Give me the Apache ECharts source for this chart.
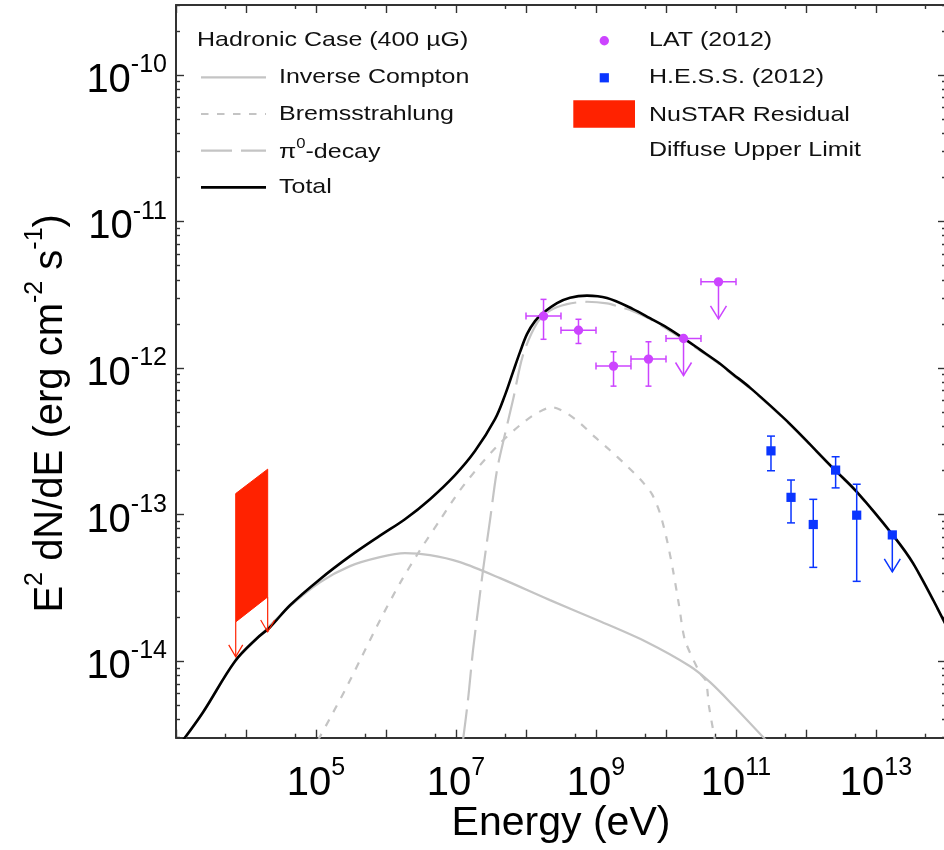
<!DOCTYPE html>
<html><head><meta charset="utf-8">
<script src="https://cdn.jsdelivr.net/npm/echarts@6/dist/echarts.min.js"></script>
<style>html,body{margin:0;padding:0;background:#fff}#c{width:944px;height:850px}</style>
</head><body><div id="c"></div>
<script>
// ---------------- DATA ----------------
// Model curves: log10(E / eV) and log10(E^2 dN/dE / erg cm^-2 s^-1)
const totalLogE = [3.100, 3.386, 3.843, 4.157, 4.343, 4.629, 5.057, 5.486, 5.914, 6.271, 6.629, 6.986, 7.271, 7.557, 7.700, 7.814, 7.914, 8.014, 8.129, 8.243, 8.443, 8.629, 8.871, 9.157, 9.529, 9.771, 10.014, 10.300, 10.486, 10.729, 10.957, 11.200, 11.729, 12.386, 12.729, 13.243, 13.529, 14.000];
const totalLogF = [-14.540, -14.349, -14.001, -13.844, -13.769, -13.619, -13.441, -13.284, -13.144, -13.032, -12.895, -12.731, -12.567, -12.349, -12.185, -12.028, -11.892, -11.769, -11.680, -11.625, -11.557, -11.520, -11.506, -11.523, -11.598, -11.660, -11.724, -11.813, -11.875, -11.956, -12.042, -12.134, -12.363, -12.683, -12.847, -13.141, -13.332, -13.755];

const pionLogE = [7.100, 7.171, 7.243, 7.314, 7.386, 7.486, 7.586, 7.700, 7.814, 7.957, 8.157, 8.343, 8.586, 8.871, 9.157, 9.343, 9.529, 9.771, 10.014, 10.300, 10.486, 10.729, 10.957, 11.200, 11.729, 12.386, 12.729, 13.243, 13.529, 14.000];
const pionLogF = [-14.540, -14.267, -13.926, -13.653, -13.380, -13.038, -12.697, -12.451, -12.219, -11.912, -11.694, -11.608, -11.564, -11.548, -11.559, -11.584, -11.612, -11.666, -11.735, -11.823, -11.881, -11.962, -12.048, -12.140, -12.368, -12.687, -12.851, -13.145, -13.336, -13.759];

const bremsLogE = [5.029, 5.200, 5.414, 5.629, 5.914, 6.200, 6.486, 6.771, 7.057, 7.343, 7.629, 7.914, 8.129, 8.371, 8.557, 8.771, 8.986, 9.200, 9.414, 9.629, 9.800, 9.914, 10.014, 10.100, 10.186, 10.271, 10.486, 10.571, 10.614, 10.700];
const bremsLogF = [-14.540, -14.390, -14.199, -13.994, -13.721, -13.468, -13.243, -13.038, -12.834, -12.663, -12.513, -12.390, -12.315, -12.267, -12.301, -12.376, -12.472, -12.561, -12.656, -12.758, -12.861, -12.991, -13.175, -13.380, -13.619, -13.857, -14.083, -14.137, -14.308, -14.540];

const icLogE = [3.100, 3.386, 3.843, 4.157, 4.629, 5.057, 5.486, 5.914, 6.271, 6.629, 7.057, 7.629, 8.343, 9.057, 9.729, 10.343, 10.629, 10.957, 11.429];
const icLogF = [-14.545, -14.352, -14.004, -13.847, -13.625, -13.462, -13.352, -13.291, -13.264, -13.277, -13.325, -13.434, -13.584, -13.728, -13.871, -14.035, -14.144, -14.301, -14.540];

// Fermi-LAT (2012)
const latE     = [1.78e8, 5.62e8, 1.78e9, 5.62e9, 1.78e10, 5.62e10];
const latELow  = [1.00e8, 3.16e8, 1.00e9, 3.16e9, 1.00e10, 3.16e10];
const latEHigh = [3.16e8, 1.00e9, 3.16e9, 1.00e10, 3.16e10, 1.00e11];
const latF     = [2.26e-12, 1.81e-12, 1.03e-12, 1.15e-12, 1.59e-12, 3.87e-12];
const latFLow  = [1.57e-12, 1.47e-12, 7.52e-13, 7.52e-13, null, null];
const latFHigh = [2.94e-12, 2.15e-12, 1.29e-12, 1.51e-12, null, null];
const latUL    = [false, false, false, false, true, true];

// H.E.S.S. (2012)
const hessE     = [3.16e11, 6.11e11, 1.27e12, 2.65e12, 5.30e12, 1.71e13];
const hessF     = [2.72e-13, 1.31e-13, 8.55e-14, 2.01e-13, 9.90e-14, 7.26e-14];
const hessFLow  = [1.99e-13, 8.77e-14, 4.36e-14, 1.52e-13, 3.50e-14, null];
const hessFHigh = [3.43e-13, 1.72e-13, 1.27e-13, 2.48e-13, 1.61e-13, null];
const hessUL    = [false, false, false, false, false, true];

// NuSTAR residual band (left / right energy edges) and diffuse upper limit (= band bottom)
const nustarE     = [7.13e3, 2.04e4];
const nustarFHigh = [1.39e-13, 2.04e-13];
const nustarFLow  = [1.85e-14, 2.74e-14];

// Axes
const X_MIN = 1e3, X_MAX = 1e14, Y_MIN = 3e-15, Y_MAX = 3e-10;
const xTickLabels = [1e5, 1e7, 1e9, 1e11, 1e13];
const yTickLabels = [1e-14, 1e-13, 1e-12, 1e-11, 1e-10];
const xMajorTicks = [1e3, 1e4, 1e5, 1e6, 1e7, 1e8, 1e9, 1e10, 1e11, 1e12, 1e13, 1e14];
const xMinorTicks = [5e3, 5e4, 5e5, 5e6, 5e7, 5e8, 5e9, 5e10, 5e11, 5e12, 5e13];
const yMajorTicks = [1e-14, 1e-13, 1e-12, 1e-11, 1e-10];
const yMinorTicks = [];
for (let n = -15; n <= -10; n++) for (let k = 2; k <= 9; k++) yMinorTicks.push(k * Math.pow(10, n));

// ---------------- STYLE ----------------
const FONT = '"Liberation Sans", Arial, Helvetica, sans-serif';
const AX = '#333';
const LAT_COLOR = '#cc44ff', HESS_COLOR = '#0a35ff', NU_COLOR = '#ff2200', GRAY = '#c4c4c4';

function toPairs(le, lf) { return le.map((e, i) => [Math.pow(10, e), Math.pow(10, lf[i])]); }

const richNum = {
  b: {fontSize: 40, fontFamily: FONT, color: '#000', lineHeight: 48, verticalAlign: 'bottom'},
  s: {fontSize: 25, fontFamily: FONT, color: '#000', lineHeight: 25, verticalAlign: 'top'}
};
const expLabel = v => '{b|10}{s|' + Math.round(Math.log10(v)) + '}';

function axis(kind, pos, ticks, len, showLine, extra) {
  const a = {
    type: 'log', logBase: 10,
    min: kind === 'x' ? X_MIN : Y_MIN, max: kind === 'x' ? X_MAX : Y_MAX,
    position: pos, gridIndex: 0,
    axisLine: {show: showLine, onZero: false, lineStyle: {color: AX, width: 2}},
    axisTick: {show: true, inside: true, length: len, customValues: ticks, lineStyle: {color: AX, width: 1.4}},
    axisLabel: {show: false},
    splitLine: {show: false}, minorTick: {show: false}, minorSplitLine: {show: false}
  };
  return Object.assign(a, extra || {});
}

const st = (c, w) => ({stroke: c, lineWidth: w, fill: null});

function renderLat(params, api) {
  const i = params.dataIndex;
  const c = api.coord([latE[i], latF[i]]);
  const xl = api.coord([latELow[i], latF[i]])[0];
  const xh = api.coord([latEHigh[i], latF[i]])[0];
  const s = st(LAT_COLOR, 1.5);
  const ch = [
    {type: 'line', shape: {x1: xl, y1: c[1], x2: xh, y2: c[1]}, style: s},
    {type: 'line', shape: {x1: xl, y1: c[1] - 3.5, x2: xl, y2: c[1] + 3.5}, style: s},
    {type: 'line', shape: {x1: xh, y1: c[1] - 3.5, x2: xh, y2: c[1] + 3.5}, style: s}
  ];
  if (latUL[i]) {
    const tip = c[1] + 37;
    ch.push({type: 'line', shape: {x1: c[0], y1: c[1], x2: c[0], y2: tip}, style: s});
    ch.push({type: 'polyline', shape: {points: [[c[0] - 8, tip - 13], [c[0], tip], [c[0] + 8, tip - 13]]}, style: s});
  } else {
    const yl = api.coord([latE[i], latFLow[i]])[1];
    const yh = api.coord([latE[i], latFHigh[i]])[1];
    ch.push({type: 'line', shape: {x1: c[0], y1: yl, x2: c[0], y2: yh}, style: s});
    ch.push({type: 'line', shape: {x1: c[0] - 3, y1: yl, x2: c[0] + 3, y2: yl}, style: s});
    ch.push({type: 'line', shape: {x1: c[0] - 3, y1: yh, x2: c[0] + 3, y2: yh}, style: s});
  }
  ch.push({type: 'circle', shape: {cx: c[0], cy: c[1], r: 4.7}, style: {fill: LAT_COLOR}});
  return {type: 'group', children: ch};
}

function renderHess(params, api) {
  const i = params.dataIndex;
  const c = api.coord([hessE[i], hessF[i]]);
  const s = st(HESS_COLOR, 1.5);
  const ch = [];
  if (hessUL[i]) {
    const tip = c[1] + 37;
    ch.push({type: 'line', shape: {x1: c[0], y1: c[1], x2: c[0], y2: tip}, style: s});
    ch.push({type: 'polyline', shape: {points: [[c[0] - 8, tip - 13], [c[0], tip], [c[0] + 8, tip - 13]]}, style: s});
  } else {
    const yl = api.coord([hessE[i], hessFLow[i]])[1];
    const yh = api.coord([hessE[i], hessFHigh[i]])[1];
    ch.push({type: 'line', shape: {x1: c[0], y1: yl, x2: c[0], y2: yh}, style: s});
    ch.push({type: 'line', shape: {x1: c[0] - 4, y1: yl, x2: c[0] + 4, y2: yl}, style: s});
    ch.push({type: 'line', shape: {x1: c[0] - 4, y1: yh, x2: c[0] + 4, y2: yh}, style: s});
  }
  ch.push({type: 'rect', shape: {x: c[0] - 4.6, y: c[1] - 4.6, width: 9.2, height: 9.2}, style: {fill: HESS_COLOR}});
  return {type: 'group', children: ch};
}

function renderNu(params, api) {
  const p1 = api.coord([nustarE[0], nustarFLow[0]]);
  const p2 = api.coord([nustarE[0], nustarFHigh[0]]);
  const p3 = api.coord([nustarE[1], nustarFHigh[1]]);
  const p4 = api.coord([nustarE[1], nustarFLow[1]]);
  const s = st(NU_COLOR, 1.2);
  const ch = [{type: 'polygon', shape: {points: [p1, p2, p3, p4]}, style: {fill: NU_COLOR, stroke: NU_COLOR, lineWidth: 1}}];
  [p1, p4].forEach(p => {
    const tip = p[1] + 35;
    ch.push({type: 'line', shape: {x1: p[0], y1: p[1], x2: p[0], y2: tip}, style: s});
    ch.push({type: 'polyline', shape: {points: [[p[0] - 7, tip - 12], [p[0], tip], [p[0] + 7, tip - 12]]}, style: s});
  });
  return {type: 'group', children: ch};
}

// Legend drawn as graphic elements
const LEG_SCALE = 1.19;
function legText(x, y, text, rich) {
  const style = {text: text, fontSize: 21, fontFamily: FONT, fill: '#111', align: 'left', verticalAlign: 'middle'};
  if (rich) style.rich = rich;
  return {type: 'text', x: x, y: y, scaleX: LEG_SCALE, style: style, z: 100};
}
const legendElements = [
  legText(197, 40, 'Hadronic Case (400 µG)'),
  {type: 'line', shape: {x1: 201, y1: 77.3, x2: 266, y2: 77.3}, style: {stroke: GRAY, lineWidth: 2.2}, z: 100},
  legText(279, 77.5, 'Inverse Compton'),
  {type: 'line', shape: {x1: 201, y1: 114, x2: 266, y2: 114}, style: {stroke: GRAY, lineWidth: 2.2, lineDash: [7.5, 8.5]}, z: 100},
  legText(279, 114, 'Bremsstrahlung'),
  {type: 'line', shape: {x1: 201, y1: 150.7, x2: 266, y2: 150.7}, style: {stroke: GRAY, lineWidth: 2.2, lineDash: [31, 9]}, z: 100},
  legText(279, 150, '{a|π}{s|0}{a|-decay}', {
    a: {fontSize: 21, fontFamily: FONT, fill: '#111', lineHeight: 26, verticalAlign: 'bottom'},
    s: {fontSize: 14, fontFamily: FONT, fill: '#111', lineHeight: 14, verticalAlign: 'top'}
  }),
  {type: 'line', shape: {x1: 201, y1: 187.3, x2: 266, y2: 187.3}, style: {stroke: '#000', lineWidth: 2.8}, z: 100},
  legText(279, 187, 'Total'),
  {type: 'circle', shape: {cx: 604.3, cy: 40.7, r: 4.7}, style: {fill: LAT_COLOR}, z: 100},
  legText(649, 40, 'LAT (2012)'),
  {type: 'rect', shape: {x: 599.7, y: 73.2, width: 9.2, height: 9.2}, style: {fill: HESS_COLOR}, z: 100},
  legText(649, 77, 'H.E.S.S. (2012)'),
  {type: 'rect', shape: {x: 573.3, y: 100.3, width: 61.7, height: 27.4}, style: {fill: NU_COLOR}, z: 100},
  legText(649, 115, 'NuSTAR Residual'),
  legText(649, 150, 'Diffuse Upper Limit')
];

const chart = echarts.init(document.getElementById('c'), null, {renderer: 'canvas'});
chart.setOption({
  animation: false,
  backgroundColor: '#fff',
  grid: {left: 176, top: 5, width: 770, height: 732.7, containLabel: false, outerBoundsMode: 'none'},
  xAxis: [
    axis('x', 'bottom', xMajorTicks, 8, true, {
      axisLabel: {show: true, customValues: xTickLabels, formatter: expLabel, margin: 18, rich: richNum, fontFamily: FONT},
      name: 'Energy (eV)', nameLocation: 'middle', nameGap: 62, nameMoveOverlap: false,
      nameTextStyle: {fontSize: 41, fontFamily: FONT, color: '#000', lineHeight: 48}
    }),
    axis('x', 'bottom', xMinorTicks, 4, false),
    axis('x', 'top', xMajorTicks, 8, true),
    axis('x', 'top', xMinorTicks, 4, false)
  ],
  yAxis: [
    axis('y', 'left', yMajorTicks, 8, true, {
      axisLabel: {show: true, customValues: yTickLabels, formatter: expLabel, margin: 9, rich: richNum, fontFamily: FONT, padding: [4, 0, 0, 0]},
      name: '{n|E}{s|2}{n| dN/dE (erg cm}{s|-2}{n| s}{s|-1}{n|)}',
      nameLocation: 'middle', nameGap: 105, nameMoveOverlap: false,
      nameTextStyle: {fontFamily: FONT, color: '#000', padding: [0, 84, 0, 0], rich: {
        n: {fontSize: 40, fontFamily: FONT, color: '#000', lineHeight: 48, verticalAlign: 'bottom'},
        s: {fontSize: 25, fontFamily: FONT, color: '#000', lineHeight: 25, verticalAlign: 'top'}
      }}
    }),
    axis('y', 'left', yMinorTicks, 4, false),
    axis('y', 'right', yMajorTicks, 8, true),
    axis('y', 'right', yMinorTicks, 4, false)
  ],
  series: [
    {name: 'Inverse Compton', type: 'line', data: toPairs(icLogE, icLogF), symbol: 'none', smooth: 0.3, clip: true,
     lineStyle: {color: GRAY, width: 2.2}, z: 2},
    {name: 'Bremsstrahlung', type: 'line', data: toPairs(bremsLogE, bremsLogF), symbol: 'none', smooth: 0.25, clip: true,
     lineStyle: {color: GRAY, width: 2.2, type: [7.5, 8.5]}, z: 2},
    {name: 'π0-decay', type: 'line', data: toPairs(pionLogE, pionLogF), symbol: 'none', smooth: 0.3, clip: true,
     lineStyle: {color: GRAY, width: 2.2, type: [31, 9]}, z: 2},
    {name: 'Total', type: 'line', data: toPairs(totalLogE, totalLogF), symbol: 'none', smooth: 0.35, clip: true,
     lineStyle: {color: '#000', width: 2.6}, z: 3},
    {name: 'NuSTAR Residual', type: 'custom', renderItem: renderNu, data: [[nustarE[0], nustarFLow[0]]], z: 4},
    {name: 'LAT (2012)', type: 'custom', renderItem: renderLat, data: latE.map((e, i) => [e, latF[i]]), z: 5},
    {name: 'H.E.S.S. (2012)', type: 'custom', renderItem: renderHess, data: hessE.map((e, i) => [e, hessF[i]]), z: 5}
  ],
  graphic: {elements: legendElements}
});
</script></body></html>
